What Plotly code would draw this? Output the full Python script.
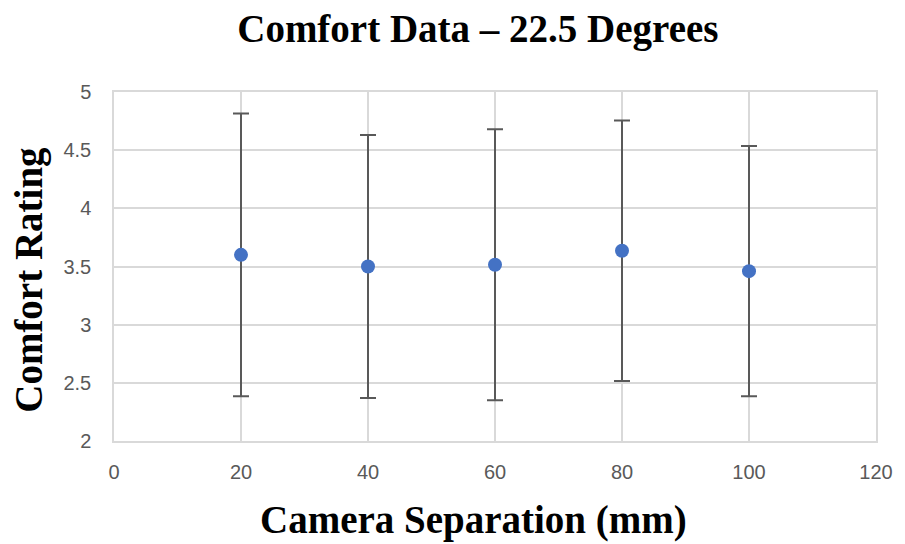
import plotly.graph_objects as go

# Mean comfort ratings per camera separation, with error bar half-widths
separation_mm = [20, 40, 60, 80, 100]
comfort_mean = [3.60, 3.50, 3.515, 3.635, 3.46]
comfort_err = [1.215, 1.13, 1.165, 1.12, 1.075]

x_ticks = [0, 20, 40, 60, 80, 100, 120]
y_ticks = [2, 2.5, 3, 3.5, 4, 4.5, 5]

serif_bold = "Liberation Serif, Times New Roman, serif"
title_font = dict(family=serif_bold, size=39, color="black")
tick_font = dict(family="Liberation Sans, Arial, sans-serif", size=20, color="#595959")

fig = go.Figure(
    go.Scatter(
        x=separation_mm,
        y=comfort_mean,
        mode="markers",
        marker=dict(color="#4472C4", size=14),
        error_y=dict(type="data", array=comfort_err, visible=True,
                     color="#595959", thickness=2, width=8),
        showlegend=False,
    )
)

fig.update_layout(
    width=905,
    height=544,
    paper_bgcolor="white",
    plot_bgcolor="white",
    margin=dict(l=114, r=21, t=92, b=103),
    title=dict(
        text="<b>Comfort Data – 22.5 Degrees</b>",
        font=title_font,
        x=0.528, xanchor="center", y=0.948, yanchor="middle",
    ),
    annotations=[
        dict(text="<b>Camera Separation (mm)</b>", font=title_font,
             xref="paper", yref="paper", x=0.4714, y=-0.226,
             xanchor="center", yanchor="middle", showarrow=False),
        dict(text="<b>Comfort Rating</b>", font=title_font, textangle=-90,
             xref="paper", yref="paper", x=-0.112, y=0.461,
             xanchor="center", yanchor="middle", showarrow=False),
    ],
)

fig.update_xaxes(
    range=[0, 120],
    tickvals=x_ticks,
    tickfont=tick_font,
    showgrid=True,
    gridcolor="#d9d9d9",
    gridwidth=1.5,
    showline=True,
    linecolor="#d9d9d9",
    linewidth=1.5,
    mirror=True,
    zeroline=False,
    ticks="",
    ticklabelstandoff=12,
)

fig.update_yaxes(
    range=[2, 5],
    tickvals=y_ticks,
    ticktext=[str(v) if v != int(v) else str(int(v)) for v in y_ticks],
    tickfont=tick_font,
    showgrid=True,
    gridcolor="#d9d9d9",
    gridwidth=1.5,
    showline=True,
    linecolor="#d9d9d9",
    linewidth=1.5,
    mirror=True,
    zeroline=False,
    ticks="",
    ticklabelstandoff=17,
)

fig.write_html("out.html")
